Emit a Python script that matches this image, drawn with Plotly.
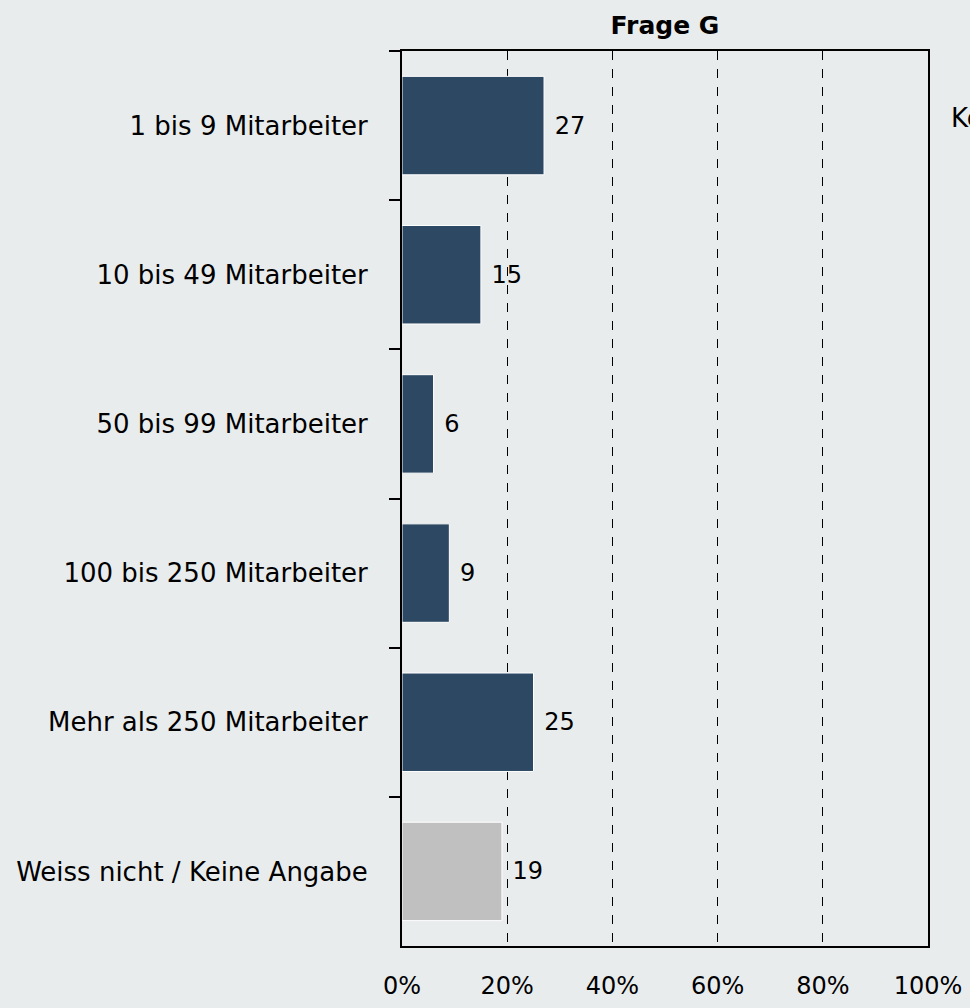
import plotly.graph_objects as go

# Frage G - Unternehmensgroesse
categories = [
    "1 bis 9 Mitarbeiter",
    "10 bis 49 Mitarbeiter",
    "50 bis 99 Mitarbeiter",
    "100 bis 250 Mitarbeiter",
    "Mehr als 250 Mitarbeiter",
    "Weiss nicht / Keine Angabe",
]
values = [27, 15, 6, 9, 25, 19]
x_ticks = [0, 20, 40, 60, 80, 100]

NAVY = "#2c4862"
GREY = "#c0c0c0"
BG = "#e9eced"
FONT = "DejaVu Sans"

colors = [GREY if c.startswith("Weiss") else NAVY for c in categories]

fig = go.Figure(go.Bar(
    x=values,
    y=categories,
    orientation="h",
    marker=dict(color=colors, line=dict(color="white", width=1)),
    text=[f" {v}" for v in values],
    textposition="outside",
    textfont=dict(family=FONT, size=24, color="black"),
    cliponaxis=False,
    showlegend=False,
))

fig.update_layout(
    width=970, height=1008,
    paper_bgcolor=BG, plot_bgcolor=BG,
    margin=dict(l=402, r=42, t=51, b=62, autoexpand=False),
    bargap=0.34,
    font=dict(family=FONT, color="black"),
    title=dict(text="<b>Frage G</b>", x=0.5, xref="paper", xanchor="center",
               y=1 - 25 / 1008, yref="container", yanchor="middle",
               font=dict(family=FONT, size=25, color="black")),
)

fig.update_xaxes(
    range=[0, 100], tickvals=x_ticks, ticktext=[f"{t}%" for t in x_ticks],
    showgrid=True, gridcolor="black", gridwidth=1, griddash="dash",
    showline=True, linecolor="black", linewidth=2, mirror=True,
    ticks="", zeroline=False, ticklabelstandoff=17, automargin=False,
    tickfont=dict(family=FONT, size=24, color="black"),
)

fig.update_yaxes(
    autorange="reversed", showgrid=False,
    showline=True, linecolor="black", linewidth=2, mirror=True,
    ticks="outside", tickson="boundaries", ticklen=11, tickwidth=2, tickcolor="black",
    ticklabelstandoff=27, automargin=False,
    tickfont=dict(family=FONT, size=26, color="black"),
)

# label cut off at the right edge of the original image
fig.add_annotation(text="Keine Angabe", x=(949 - 402) / 526, xref="paper",
                   y=1 - (118 - 51) / 895, yref="paper",
                   showarrow=False, xanchor="left", yanchor="middle",
                   font=dict(family=FONT, size=26, color="black"))

fig.write_html("out.html", config={"displayModeBar": False},
               post_script="document.body.style.margin='0';")
